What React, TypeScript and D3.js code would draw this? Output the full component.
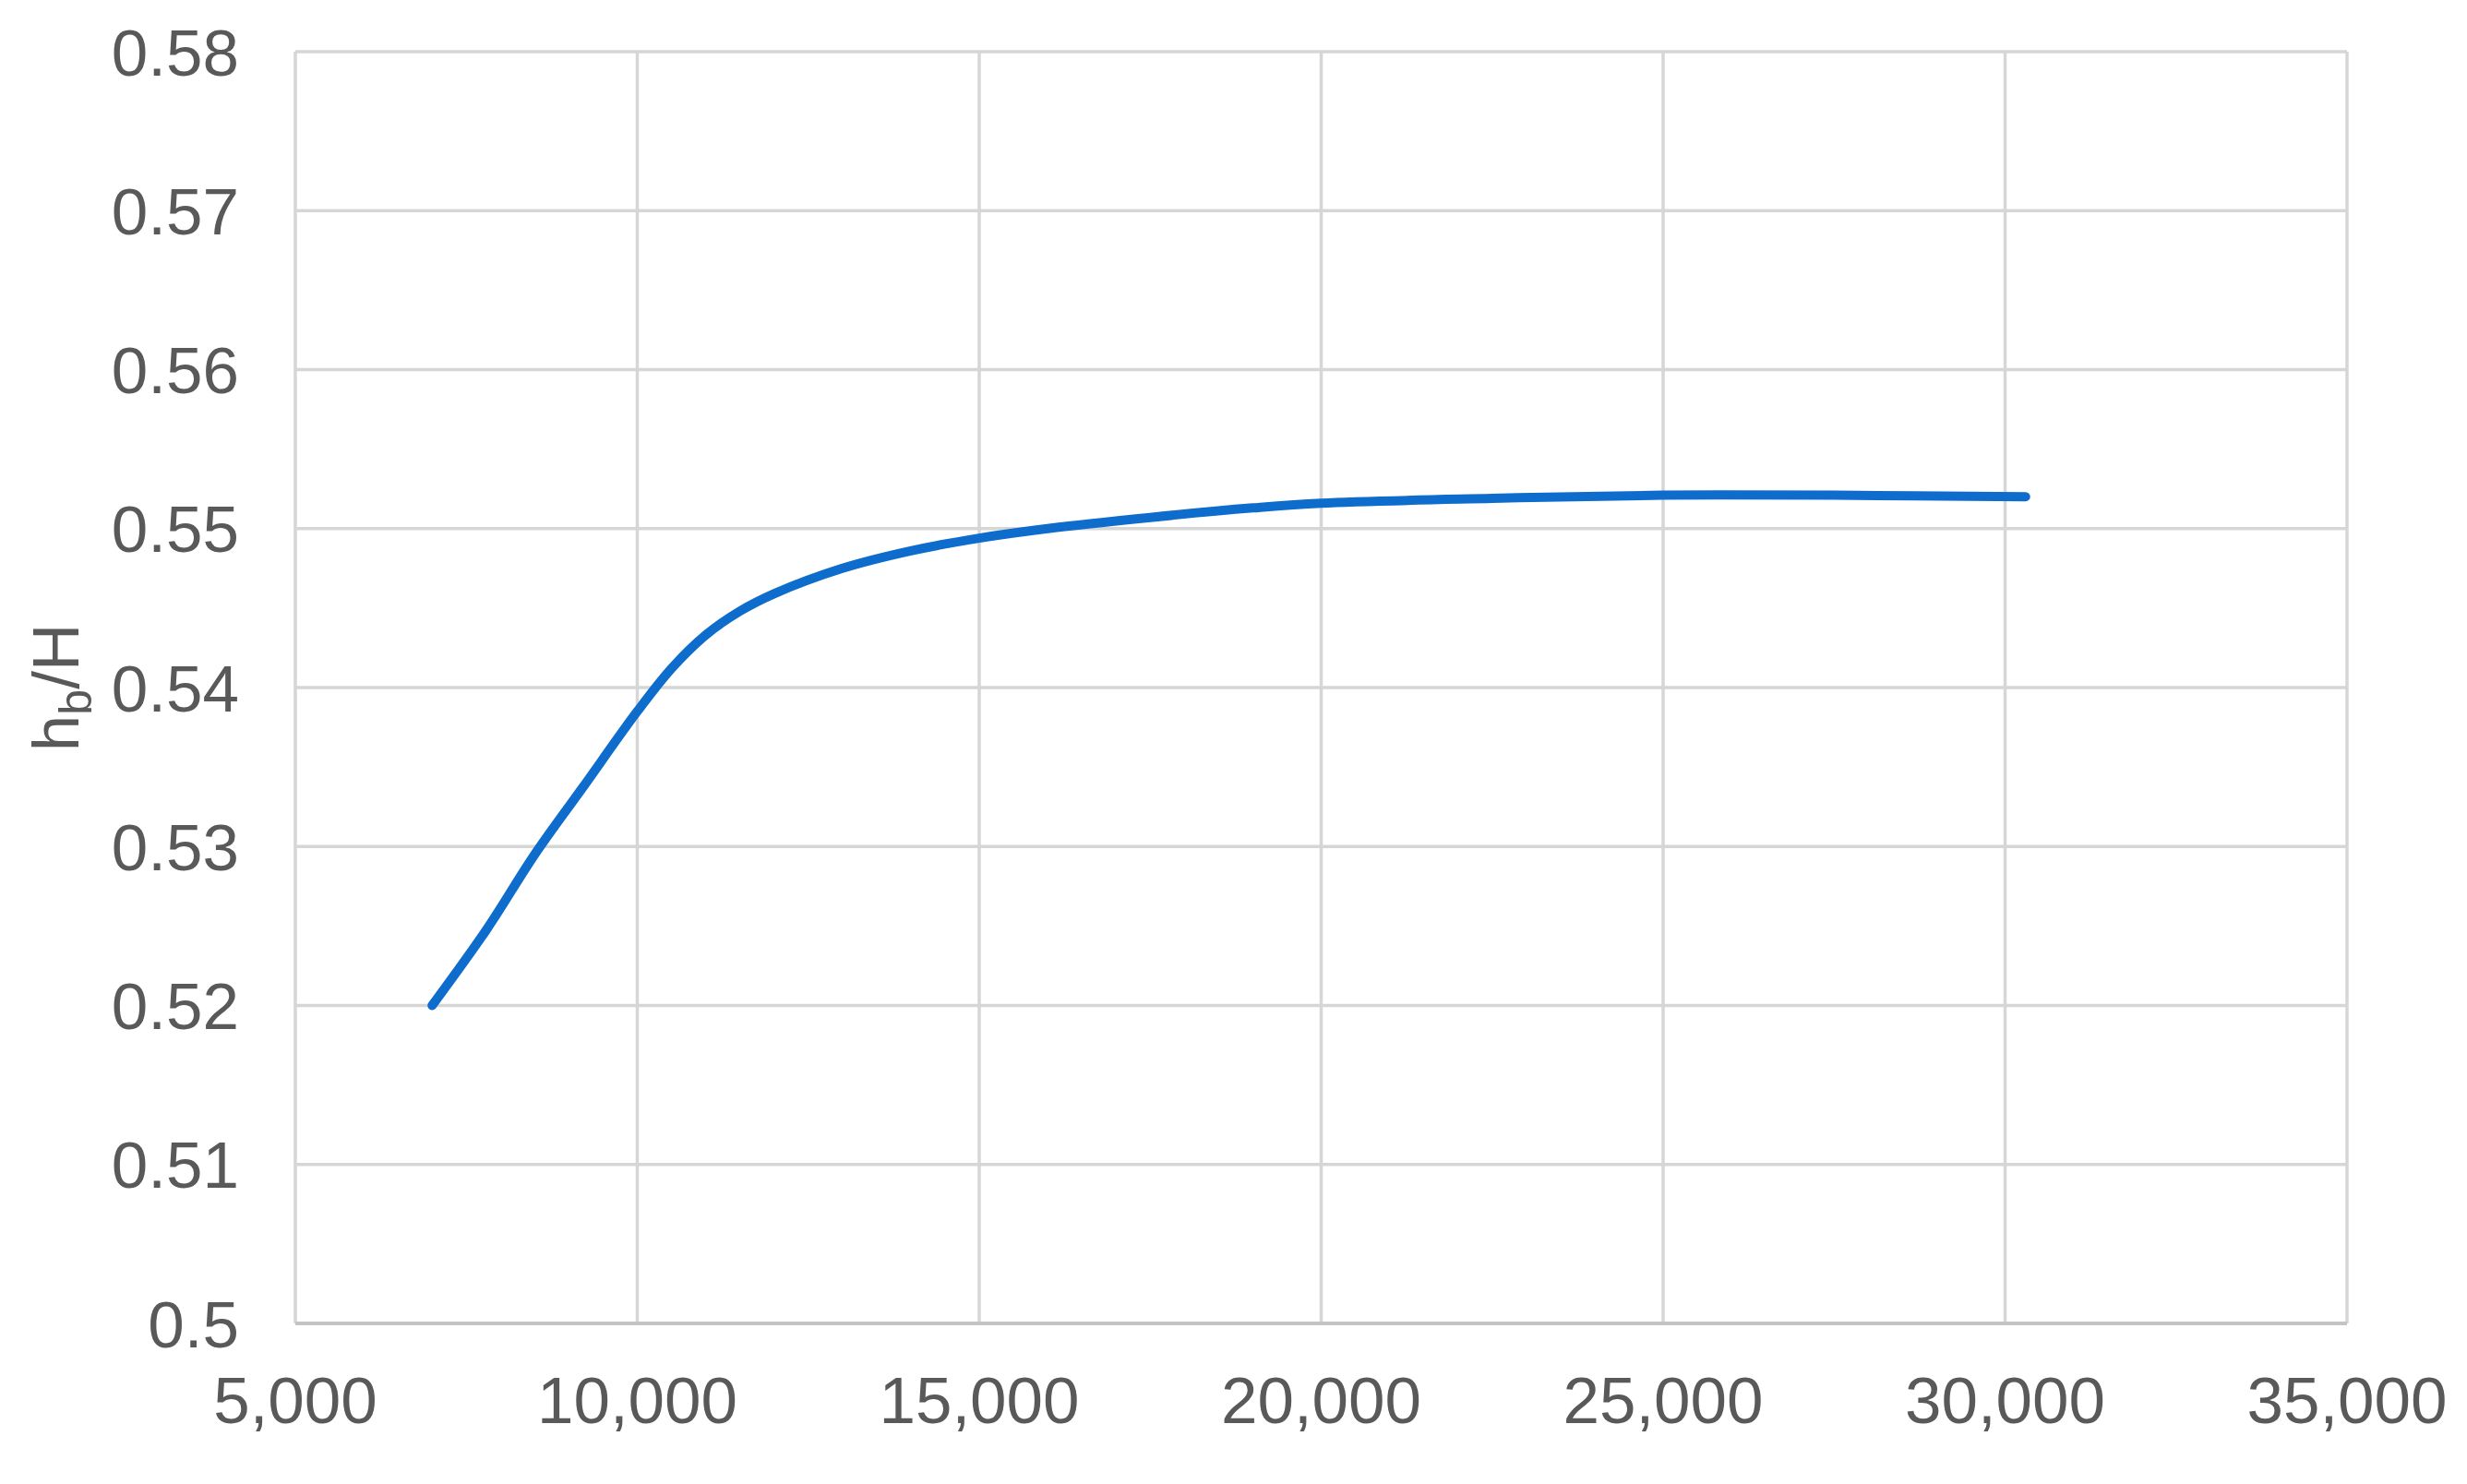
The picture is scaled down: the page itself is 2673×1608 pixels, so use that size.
import React from "react";
import * as d3 from "d3";

const xValues = [7000, 7800, 8500, 9200, 10000, 10500, 11000, 11500, 12000, 13000, 14000, 15000, 16000, 17500, 19000, 20000, 22500, 25000, 27500, 30300];
const yValues = [0.52, 0.5248, 0.5295, 0.5337, 0.5385, 0.5412, 0.5433, 0.5448, 0.5459, 0.5475, 0.5486, 0.5494, 0.55, 0.5507, 0.5513, 0.5516, 0.5519, 0.5521, 0.5521, 0.552];
const xTicks = [5000, 10000, 15000, 20000, 25000, 30000, 35000];
const yTicks = [0.5, 0.51, 0.52, 0.53, 0.54, 0.55, 0.56, 0.57, 0.58];

const W = 2673;
const H = 1608;
const M = { left: 320, right: 2543, top: 56, bottom: 1434 };

export default function App() {
  const x = d3.scaleLinear().domain([5000, 35000]).range([M.left, M.right]);
  const y = d3.scaleLinear().domain([0.5, 0.58]).range([M.bottom, M.top]);
  const pts: [number, number][] = xValues.map((v, i) => [v, yValues[i]]);
  const line = d3
    .line<[number, number]>()
    .x((d) => x(d[0]))
    .y((d) => y(d[1]))
    .curve(d3.curveCatmullRom.alpha(0.5));
  const fmtX = d3.format(",");
  const fmtY = (v: number) => String(+v.toFixed(2));
  const font = "'Liberation Sans', Arial, sans-serif";
  const grid = "#d6d6d6";
  const txt = "#595959";
  return (
    <div style={{ position: "fixed", left: 0, top: 0 }}>
      <svg width={W} height={H} style={{ display: "block", background: "#fff" }}>
        <rect x={0} y={0} width={W} height={H} fill="#fff" />
        {yTicks.map((t) => (
          <line key={"gy" + t} x1={M.left} x2={M.right} y1={y(t)} y2={y(t)} stroke={grid} strokeWidth={3.5} />
        ))}
        {xTicks.map((t) => (
          <line key={"gx" + t} x1={x(t)} x2={x(t)} y1={M.top} y2={M.bottom} stroke={grid} strokeWidth={3.5} />
        ))}
        <line x1={M.left} x2={M.right} y1={M.bottom} y2={M.bottom} stroke="#c4c4c4" strokeWidth={4} />
        <path d={line(pts) || ""} fill="none" stroke="#0e6ccc" strokeWidth={10} strokeLinecap="round" strokeLinejoin="round" />
        {yTicks.map((t) => (
          <text key={"ty" + t} x={259} y={y(t)} dy="0.36em" textAnchor="end" fontFamily={font} fontSize={71} fill={txt}>
            {fmtY(t)}
          </text>
        ))}
        {xTicks.map((t) => (
          <text key={"tx" + t} x={x(t)} y={1542} textAnchor="middle" fontFamily={font} fontSize={71} fill={txt}>
            {fmtX(t)}
          </text>
        ))}
        <text transform={`translate(85, ${y(0.54)}) rotate(-90)`} textAnchor="middle" fontFamily={font} fontSize={71} fill={txt}>
          h<tspan fontSize={50} dy={14}>b</tspan>
          <tspan dy={-14}>/H</tspan>
        </text>
      </svg>
    </div>
  );
}
